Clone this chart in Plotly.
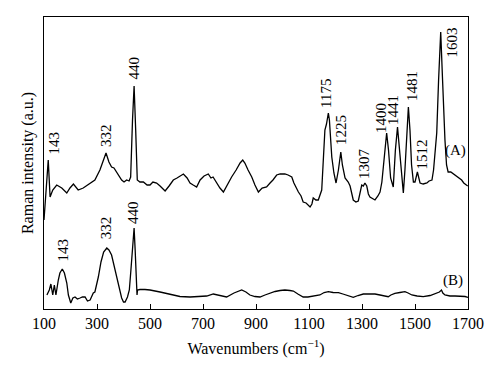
import plotly.graph_objects as go

# Spectrum (A): wavenumber (cm^-1) and relative intensity (a.u.)
wn_a = [100, 107.5, 116, 123, 133, 148, 167, 186, 198, 211, 229, 248, 274, 292, 311, 323, 334, 345, 355, 364,
        374, 383, 393, 402, 412, 421, 427, 434, 440, 446, 452, 462, 475, 489, 500, 511, 525, 538, 557, 572,
        588, 602, 613, 626, 640, 651, 663, 676, 689, 704, 720, 730, 738, 752, 764, 777, 791, 808, 825, 840,
        850, 858, 870, 884, 896, 909, 923, 940, 953, 964, 978, 991, 1009, 1021, 1035, 1043, 1060, 1070, 1078, 1089,
        1104, 1111, 1116, 1126, 1135, 1141, 1148, 1153, 1160, 1166, 1173, 1177, 1186, 1194, 1202, 1211, 1220, 1226, 1236, 1248,
        1255, 1267, 1277, 1286, 1292, 1299, 1305, 1311, 1318, 1324, 1330, 1340, 1349, 1360, 1368, 1375, 1383, 1393, 1400, 1408,
        1418, 1426, 1434, 1441, 1450, 1456, 1462, 1468, 1475, 1481, 1487, 1494, 1500, 1509, 1514, 1519, 1531, 1545, 1553, 1564,
        1570, 1576, 1582, 1589, 1597, 1604, 1609, 1613, 1619, 1625, 1635, 1650, 1662, 1676, 1684, 1694, 1699]
int_a = [89, 119, 149, 112, 119, 124, 121, 116, 121, 125, 119, 121, 126, 129, 139, 149, 156, 147, 142, 141,
         137, 134, 129, 127, 129, 128, 132, 189, 223, 179, 129, 127, 127, 124, 124, 127, 126, 123, 118, 123,
         129, 131, 133, 135, 131, 126, 124, 122, 129, 133, 135, 131, 132, 126, 121, 117, 124, 132, 139, 146,
         149, 146, 139, 132, 124, 117, 121, 122, 126, 129, 134, 135, 135, 134, 132, 126, 117, 113, 107, 106,
         102, 105, 111, 109, 109, 113, 119, 144, 179, 185, 196, 189, 152, 136, 126, 139, 157, 144, 131, 127,
         123, 109, 107, 108, 117, 124, 123, 126, 123, 115, 112, 110, 109, 113, 117, 127, 149, 176, 159, 131,
         122, 159, 182, 159, 127, 116, 139, 174, 202, 179, 144, 127, 127, 137, 131, 126, 125, 126, 128, 129,
         139, 154, 176, 229, 277, 229, 184, 169, 144, 137, 137, 134, 131, 129, 126, 124, 123]

# Spectrum (B)
wn_b = [111, 120, 126, 133, 139, 145, 154, 160, 169, 177, 186, 192, 201, 209, 217, 226, 236, 245, 255, 264,
        274, 281, 286, 292, 305, 315, 325, 337, 345, 355, 364, 374, 383, 393, 400, 406, 415, 422, 428, 434,
        440, 444, 448, 451, 453, 462, 481, 500, 538, 588, 613, 651, 689, 714, 739, 764, 789, 817, 846, 862,
        877, 896, 915, 934, 953, 972, 991, 1009, 1028, 1041, 1058, 1078, 1096, 1123, 1141, 1157, 1173, 1191, 1211, 1228,
        1247, 1267, 1285, 1305, 1330, 1349, 1368, 1387, 1399, 1409, 1424, 1443, 1462, 1474, 1488, 1508, 1531, 1557, 1582, 1592,
        1600, 1605, 1613, 1632, 1651, 1670, 1689, 1700]
int_b = [14, 19, 25, 14, 24, 14, 29, 36, 40, 36, 26, 14, 6, 11, 12, 10, 11, 12, 12, 8,
         9, 13, 16, 17, 32, 47, 57, 61, 59, 54, 44, 32, 21, 11, 7, 7, 12, 19, 39, 64,
         81, 59, 19, 14, 19, 19.5, 19.5, 19, 17, 14, 12.5, 12, 12.5, 13, 15, 13.5, 12, 16, 19, 17,
         14, 12.5, 12, 14, 16, 17.5, 18.5, 19, 18.5, 18, 15, 12, 12, 13, 14, 16.5, 17.3, 16.5, 16.3, 15,
         13, 11.7, 13.5, 15, 15, 15, 14, 12.5, 12.3, 14, 15.7, 16.5, 17.3, 16, 14, 13, 12.3, 13.5, 15.7, 17,
         19, 16, 14, 13, 13, 13, 12.5, 11.7]

# Peak labels
labels_a = ["143", "332", "440", "1175", "1225", "1307", "1400", "1441", "1481", "1512", "1603"]
lab_a_x = [136, 334, 438, 1164, 1221, 1308, 1372, 1417, 1489, 1528, 1638]
lab_a_y = [166, 173, 241, 216, 179, 145, 191, 199, 223, 155, 266]
labels_b = ["143", "332", "440"]
lab_b_x = [170, 335, 436]
lab_b_y = [59, 81, 96]
series_names = ["(A)", "(B)"]
series_lab_x = [1651, 1645]
series_lab_y = [159, 29]

x_ticks = [100, 300, 500, 700, 900, 1100, 1300, 1500, 1700]

FONT = "Liberation Serif, Times New Roman, serif"

fig = go.Figure()
fig.add_trace(go.Scatter(x=wn_a, y=int_a, mode="lines", line=dict(color="black", width=1.3),
                         showlegend=False, hoverinfo="skip"))
fig.add_trace(go.Scatter(x=wn_b, y=int_b, mode="lines", line=dict(color="black", width=1.3),
                         showlegend=False, hoverinfo="skip"))

for t, x, y in zip(labels_a + labels_b, lab_a_x + lab_b_x, lab_a_y + lab_b_y):
    fig.add_annotation(x=x, y=y, text=t, textangle=-90, showarrow=False,
                       font=dict(family=FONT, size=15, color="black"), xanchor="center", yanchor="middle")
for t, x, y in zip(series_names, series_lab_x, series_lab_y):
    fig.add_annotation(x=x, y=y, text=t, showarrow=False,
                       font=dict(family=FONT, size=15, color="black"), xanchor="center", yanchor="middle")

fig.update_layout(
    width=500, height=378,
    margin=dict(l=44, r=32, t=17, b=69),
    paper_bgcolor="white", plot_bgcolor="white",
    font=dict(family=FONT, size=16, color="black"),
    xaxis=dict(range=[100, 1700], tickvals=x_ticks, ticktext=[str(v) for v in x_ticks],
               ticks="inside", ticklen=5, tickwidth=1, tickcolor="black",
               showline=True, linecolor="black", linewidth=1, mirror=True,
               showgrid=False, zeroline=False, automargin=False,
               tickfont=dict(family=FONT, size=16),
               title=dict(text="Wavenumbers (cm<sup>−1</sup>)", standoff=11,
                          font=dict(family=FONT, size=16))),
    yaxis=dict(range=[0, 292], showticklabels=False, ticks="",
               showline=True, linecolor="black", linewidth=1, mirror=True,
               showgrid=False, zeroline=False, automargin=False,
               title=dict(text="Raman intensity (a.u.)", standoff=5,
                          font=dict(family=FONT, size=16))),
)

fig.write_html("out.html", config={"displayModeBar": False},
               post_script="document.body.style.margin='0';")
